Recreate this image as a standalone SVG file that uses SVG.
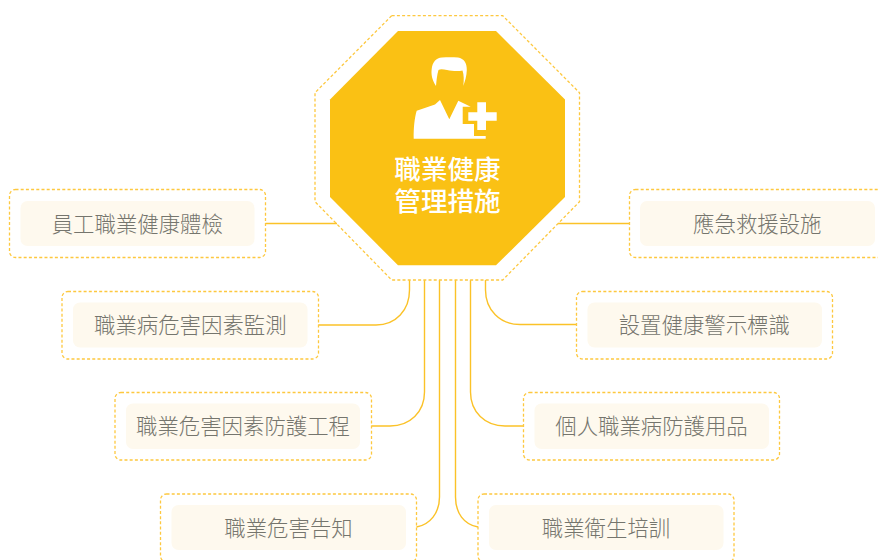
<svg xmlns="http://www.w3.org/2000/svg" width="878" height="560" viewBox="0 0 878 560">
<style>
text{font-family:"Noto Sans CJK TC","Noto Sans CJK SC",sans-serif;text-anchor:middle}
.lbl{font-size:21.4px;fill:#75756d;font-weight:300}
.ttl{font-size:26.6px;fill:#fff;font-weight:500}
.dash{fill:none;stroke:#fdc83f;stroke-width:1.3;stroke-dasharray:3 2.2}
.in{fill:#fef9ee}
.con{fill:none;stroke:#fbc228;stroke-width:1.4}
</style>
<rect width="878" height="560" fill="#fff"/>
<g id="connectors" class="con">
<path d="M265.500 223.500H337"/>
<path d="M558 223.500H629.500"/>
<path d="M318.500 325H376C396 325 409.500 310 409.500 290V280"/>
<path d="M371.500 426H390C410 426 424.500 412 424.500 392V280"/>
<path d="M416.500 527C430 524.500 439.500 513 439.500 497V280"/>
<path d="M478 527C464 524.500 455.500 513 455.500 497V280"/>
<path d="M523.500 426H505C485 426 470.500 412 470.500 392V280"/>
<path d="M576.500 324.500H520C500 324.500 485.500 310 485.500 290V280"/>
</g>
<g id="hub">
<polygon class="dash" points="391.700,15.700 502.700,15.700 579.500,92.700 579.500,201.700 502.700,280 391.700,280 315,201.700 315,92.700"/>
<polygon fill="#fac114" points="398,31 496,31 565,99.500 565,197 496,265.300 398,265.300 330,197 330,99.500"/>
<path fill="#fff" d="M436 86C432 80 431 74 431.700 69C432.500 62 436 58 442 57.500C447 57 453 57 458 57.500C464 58.500 467 63 466.800 70C466.700 76 465 81 463.300 86C464 80 464 75 462.500 70.500C458 71.500 452 71 447 70C443 69.200 440 69 438.500 70C437 75 436.500 80 436 86Z"/>
<path fill="#fff" d="M413.700 138.700C413.500 128 414.500 118 416.700 110.700L435 104.500L440 100L449.300 119.300L458.300 100.700L470.700 106.700H462.700V124H474V136H485.700V138.700Z"/>
<path fill="#fff" d="M477.300 102.300H486V112.300H496.700V120.700H486V130H477.300V120.700H468.300V112.300H477.300Z"/>
<text class="ttl" x="447.500" y="179">職業健康</text>
<text class="ttl" x="447.500" y="211">管理措施</text>
</g>
<g id="n1"><rect class="dash" x="9.500" y="189.500" width="256" height="68" rx="6"/><rect class="in" x="20.500" y="201" width="234" height="45" rx="7"/><text class="lbl" x="137.300" y="231.500">員工職業健康體檢</text></g>
<g id="n2"><rect class="dash" x="62" y="291.500" width="256.500" height="67.500" rx="6"/><rect class="in" x="73" y="302.500" width="234.500" height="45" rx="7"/><text class="lbl" x="190.300" y="332.500">職業病危害因素監測</text></g>
<g id="n3"><rect class="dash" x="115" y="392.500" width="256.500" height="67.500" rx="6"/><rect class="in" x="126" y="403.500" width="234" height="45.500" rx="7"/><text class="lbl" x="243" y="434">職業危害因素防護工程</text></g>
<g id="n4"><rect class="dash" x="160.500" y="494" width="256" height="68" rx="6"/><rect class="in" x="171.500" y="505" width="234.500" height="45" rx="7"/><text class="lbl" x="288.500" y="535.500">職業危害告知</text></g>
<g id="n5"><rect class="dash" x="478" y="494" width="256" height="68" rx="6"/><rect class="in" x="489" y="505" width="234.500" height="45" rx="7"/><text class="lbl" x="606" y="535.500">職業衛生培訓</text></g>
<g id="n6"><rect class="dash" x="523.500" y="392.500" width="256" height="67.500" rx="6"/><rect class="in" x="534.500" y="403.500" width="234.500" height="45.500" rx="7"/><text class="lbl" x="651.500" y="434">個人職業病防護用品</text></g>
<g id="n7"><rect class="dash" x="576.500" y="291.500" width="256" height="67.500" rx="6"/><rect class="in" x="587.500" y="302.500" width="234.500" height="45" rx="7"/><text class="lbl" x="704.300" y="332.500">設置健康警示標識</text></g>
<g id="n8"><rect class="dash" x="629.500" y="189.500" width="256" height="68" rx="6"/><rect class="in" x="640" y="201" width="235" height="45" rx="7"/><text class="lbl" x="757.300" y="231.500">應急救援設施</text></g>
</svg>
